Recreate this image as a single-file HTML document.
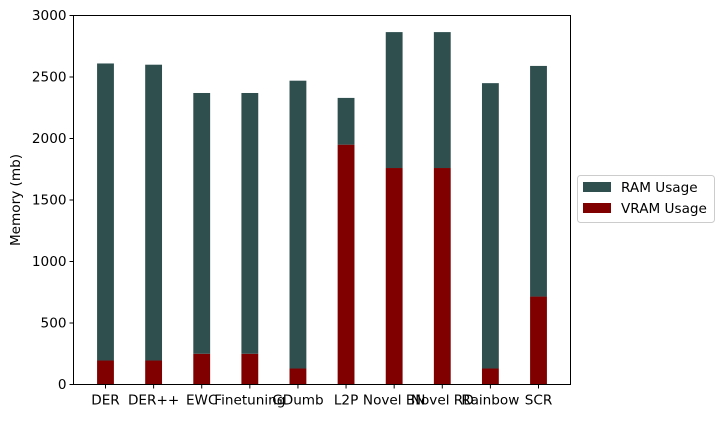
<!DOCTYPE html>
<html><head><meta charset="utf-8"><style>
body{margin:0;background:#fff;font-family:"Liberation Sans","DejaVu Sans",sans-serif;}
svg text{font-family:"DejaVu Sans","Liberation Sans",sans-serif;font-size:13.6px;fill:#000;}
</style></head><body>
<svg id="chart" width="725" height="418" viewBox="0 0 725 418">
<rect x="0" y="0" width="725" height="418" fill="#fff"/>
<g id="bars"></g>
<rect x="73.5" y="15.5" width="497" height="369" fill="none" stroke="#000" stroke-width="1"/>
<g id="yaxis"></g>
<g id="xaxis"></g>
<text x="20" y="200" text-anchor="middle" transform="rotate(-90 20 200)">Memory (mb)</text>
<g>
<rect x="577.5" y="175.5" width="137" height="47" rx="3" fill="#fff" stroke="#ccc"/>
<rect x="583" y="182" width="28" height="10" fill="#2f4f4f"/>
<text x="621" y="192">RAM Usage</text>
<rect x="583" y="203" width="28" height="10" fill="#800000"/>
<text x="621" y="213">VRAM Usage</text>
</g>
</svg>
<script>
const categories=["DER","DER++","EWC","Finetuning","GDumb","L2P","Novel BN","Novel RD","Rainbow","SCR"];
const vramValues=[195,195,250,250,130,1950,1760,1760,130,715];
const ramValues=[2415,2405,2120,2120,2340,380,1105,1105,2320,1875];
const yTicks=[0,500,1000,1500,2000,2500,3000];
const NS="http://www.w3.org/2000/svg";
const plotL=73.5,plotR=570.5,plotT=15.5,plotB=384.5;
const xMin=-0.665,xMax=9.665,yMax=3000;
function xScale(i){return plotL+(i-xMin)/(xMax-xMin)*(plotR-plotL);}
function yScale(v){return plotB-v/yMax*(plotB-plotT);}
const bw=(0.35)/(xMax-xMin)*(plotR-plotL);
const bars=document.getElementById('bars');
function mk(tag,attrs,parent){const e=document.createElementNS(NS,tag);for(const k in attrs)e.setAttribute(k,attrs[k]);parent.appendChild(e);return e;}
categories.forEach((c,i)=>{
  const cx=xScale(i);
  const v=vramValues[i],r=ramValues[i];
  const b1=mk('rect',{x:cx-bw/2,y:yScale(v),width:bw,height:yScale(0)-yScale(v),fill:'#800000'},bars);
  
  
  const b2=mk('rect',{x:cx-bw/2,y:yScale(v+r),width:bw,height:yScale(v)-yScale(v+r),fill:'#2f4f4f'},bars);
  
  
  const xa=document.getElementById('xaxis');
  const t=mk('line',{x1:cx,x2:cx,y1:plotB,y2:plotB+4,stroke:'#000'},xa);
  
  
  const l=mk('text',{x:cx,y:plotB+20,'text-anchor':'middle'},xa);
  l.textContent=c;
  
  
});
const ya=document.getElementById('yaxis');
yTicks.forEach(v=>{
  const y=yScale(v);
  const t=mk('line',{x1:plotL-4,x2:plotL,y1:y,y2:y,stroke:'#000'},ya);
  
  
  const l=mk('text',{x:plotL-7,y:y+4.5,'text-anchor':'end'},ya);
  l.textContent=v;
  
  
});
</script>
</body></html>
